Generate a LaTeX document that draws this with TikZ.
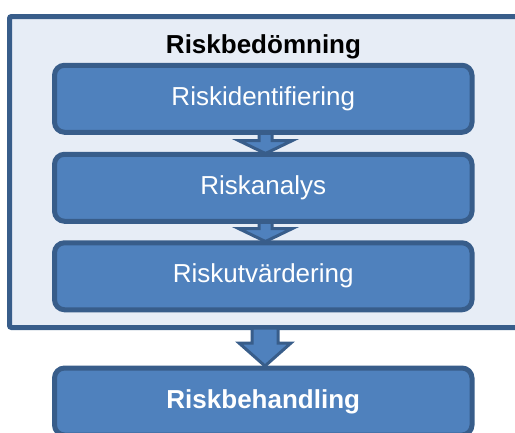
\documentclass[tikz,border=0pt]{standalone}
\usepackage{fontspec}
\setmainfont{Liberation Sans}
\usetikzlibrary{calc}
\definecolor{boxfill}{HTML}{4F81BD}
\definecolor{boxline}{HTML}{385D8A}
\definecolor{outerfill}{HTML}{E7EDF6}
\tikzset{
  stagebox/.style={draw=boxline, fill=boxfill, line width=5pt, rounded corners=10pt,
    minimum width=417.5pt, minimum height=67pt, text=white, inner sep=0pt,
    font=\fontsize{26}{30}\selectfont},
  outerbox/.style={draw=boxline, fill=outerfill, line width=5pt, rounded corners=2pt,
    minimum width=509.5pt, minimum height=311pt, inner sep=0pt},
  arrowsty/.style={draw=boxline, fill=boxfill, line width=3pt, line join=miter},
  titletext/.style={font=\bfseries\fontsize{26}{30}\selectfont, inner sep=0pt}
}
\newcommand{\bArrow}[5]{%
  \path[arrowsty] let \p1=(#1), \p2=(#2) in
    (\x2-#3,\y1) -- (\x2-#3,\y2+#5) -- (\x2-#4,\y2+#5) -- (\x2,\y2)
    -- (\x2+#4,\y2+#5) -- (\x2+#3,\y2+#5) -- (\x2+#3,\y1) -- cycle;}
\begin{document}
\begin{tikzpicture}[x=1pt,y=-1pt]
\useasboundingbox (0,0) rectangle (515,432);
\clip (0,0) rectangle (515,432);
\node[outerbox] (outer) at (264.25,172) {};
\node[titletext, anchor=base] (title) at (263.5,53) {Riskbedömning};
% arrows (behind the boxes)
\coordinate (a1s) at (265.5,125);
\coordinate (a1t) at (265.5,153.5);
\coordinate (a2s) at (265.5,214);
\coordinate (a2t) at (265.5,241.5);
\coordinate (a3s) at (265,328);
\coordinate (a3t) at (265,366);
\bArrow{a1s}{a1t}{6.5pt}{27pt}{13pt}
\bArrow{a2s}{a2t}{6.5pt}{27pt}{13pt}
\bArrow{a3s}{a3t}{13pt}{26pt}{23pt}
\node[stagebox] (b1) at (263.25,98.75) {Riskidentifiering};
\node[stagebox] (b2) at (263.25,187.75) {Riskanalys};
\node[stagebox] (b3) at (263.25,276.25) {Riskutvärdering};
\node[stagebox, font=\bfseries\fontsize{26}{30}\selectfont] (b4) at (263.25,401.5) {Riskbehandling};
\end{tikzpicture}
\end{document}
